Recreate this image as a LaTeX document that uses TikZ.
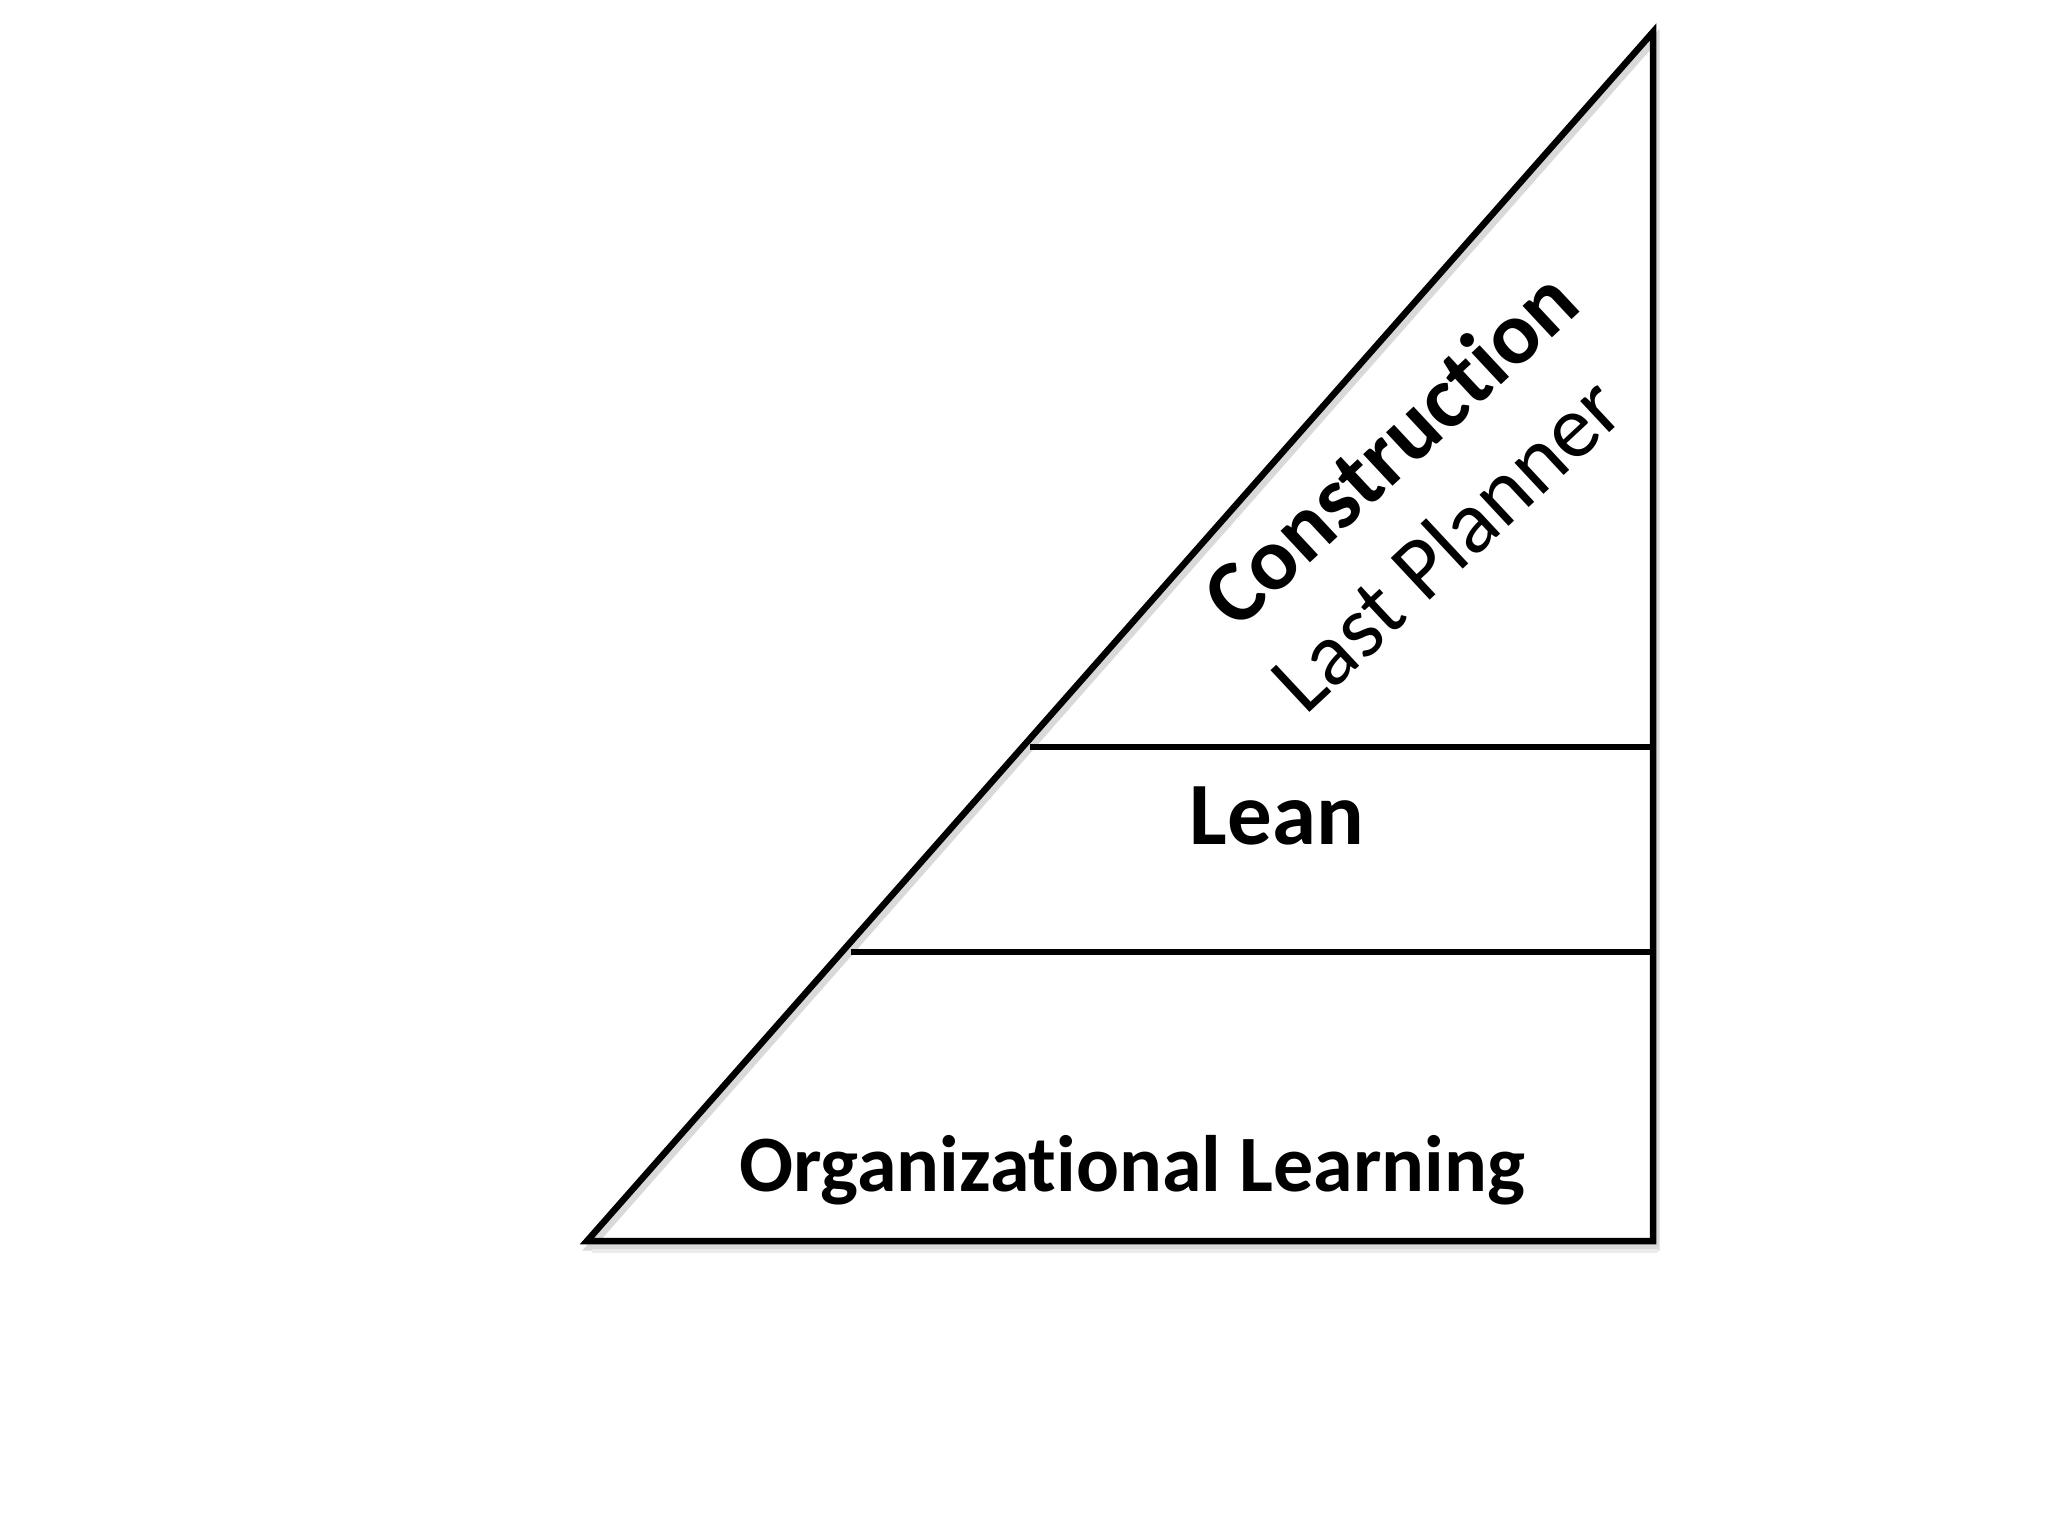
\documentclass[tikz,border=0pt]{standalone}
\usepackage{fontspec}
\setmainfont[Ligatures=NoCommon]{Carlito}
\begin{document}
\begin{tikzpicture}[x=1pt,y=-1pt,
  edge/.style={line width=6.5pt, line join=miter, black},
  shadowline/.style={line width=7pt, black!15, line join=miter},
  bigbold/.style={font=\fontsize{89}{100}\selectfont\bfseries, inner sep=0pt},
  bigreg/.style={font=\fontsize{89}{100}\selectfont, inner sep=0pt},
  obold/.style={font=\fontsize{80}{92}\selectfont\bfseries, inner sep=0pt}]
\useasboundingbox (0,0) rectangle (2048,1536);
\fill[white] (0,0) rectangle (2048,1536);
% vertices
\coordinate (A) at (587,1241);
\coordinate (B) at (1653,32);
\coordinate (C) at (1653,1241);
\coordinate (L1a) at (1030,747);
\coordinate (L1b) at (1653,747);
\coordinate (L2a) at (851,952);
\coordinate (L2b) at (1653,952);
% shadow
\draw[shadowline] ([shift={(3,6)}]A) -- ([shift={(3,6)}]B) -- ([shift={(3,6)}]C) -- cycle;
\draw[line width=4pt, black!8] ([shift={(5,10)}]A) -- ([shift={(5,10)}]C);
% triangle
\draw[edge] (A) -- (B) -- (C) -- cycle;
\draw[edge] (L1a) -- (L1b);
\draw[edge] (L2a) -- (L2b);
% texts
\node[bigbold, rotate=43, anchor=base] (con) at (1410,470) {Construction};
\node[bigreg, rotate=43, anchor=base] (lp) at (1467,566) {Last Planner};
\node[bigbold, anchor=base] (lean) at (1277,844) {Lean};
\node[obold, anchor=base] (ol) at (1132,1191) {Organizational Learning};
\end{tikzpicture}
\end{document}
